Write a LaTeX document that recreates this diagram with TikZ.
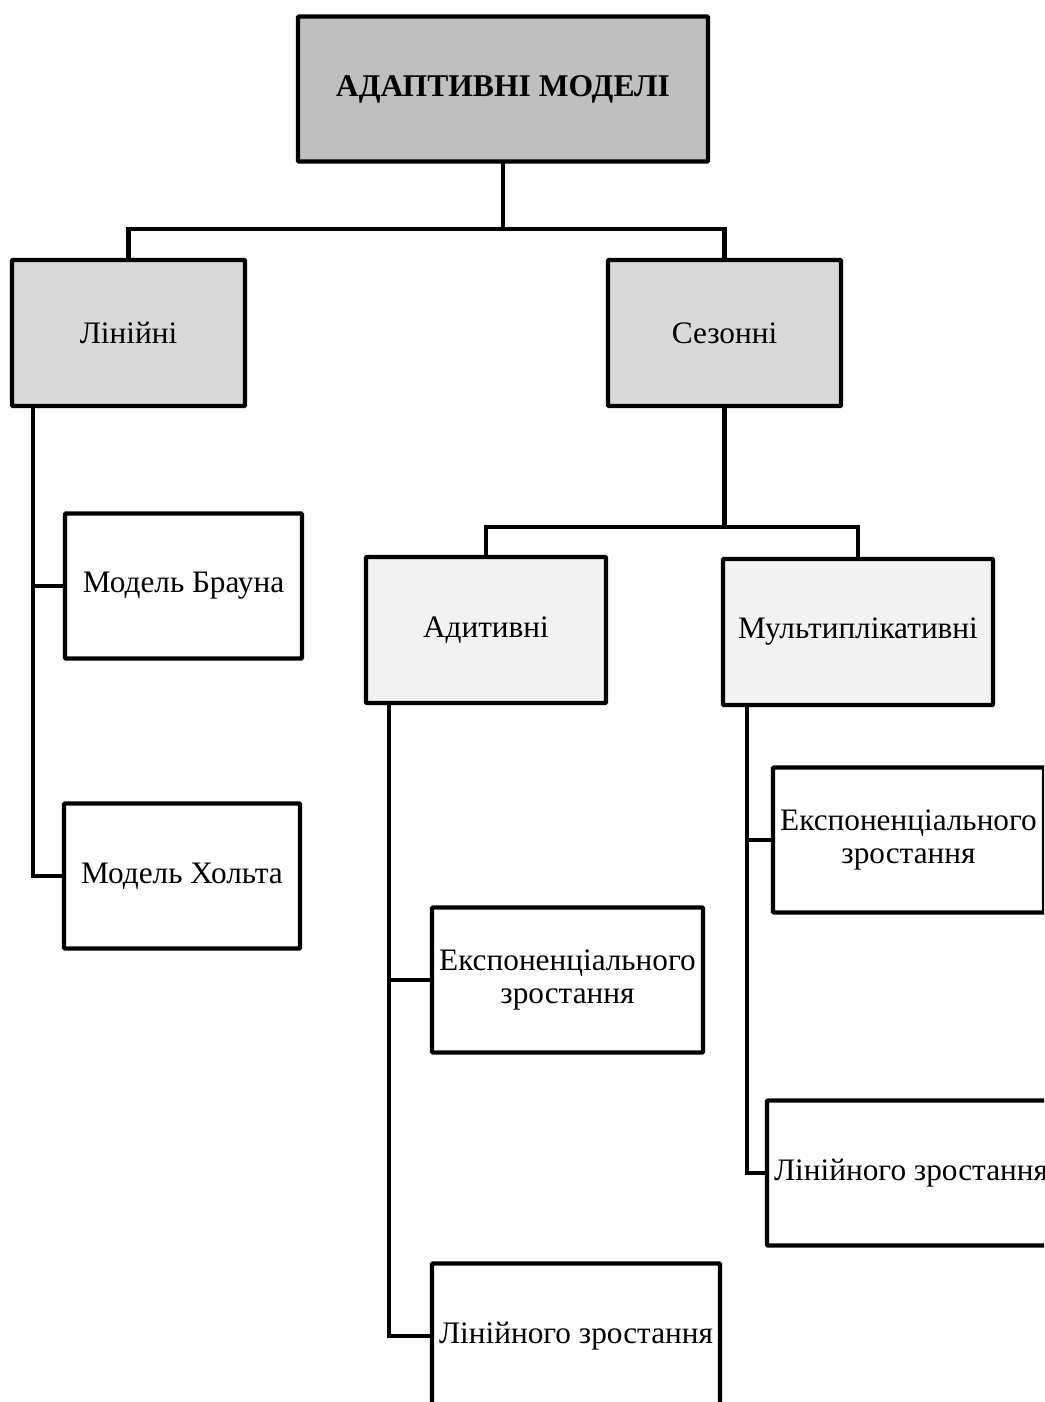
\documentclass[tikz,border=0pt]{standalone}
\usepackage{fontspec}
\setmainfont{Liberation Serif}
\usepackage{tikz}
\usetikzlibrary{positioning, calc}
\definecolor{greydark}{HTML}{BFBFBF}
\definecolor{greymid}{HTML}{D9D9D9}
\definecolor{greylight}{HTML}{F2F2F2}

\tikzset{
  box/.style={draw=black, line width=2.4pt, rounded corners=0.5pt, rectangle, align=center,
    font=\fontsize{17.8}{19}\selectfont, inner sep=2pt},
  rootbox/.style={box, fill=greydark, minimum width=8.2cm, minimum height=2.9cm,
    font=\fontsize{18}{19}\selectfont\bfseries},
  groupbox/.style={box, fill=greymid, minimum width=4.66cm, minimum height=2.92cm},
  subbox/.style={box, fill=greylight, minimum height=2.92cm},
  leafbox/.style={box, fill=white, minimum height=2.9cm},
  link/.style={draw=black, line width=2.4pt, line cap=rect}
}

\begin{document}
\begin{tikzpicture}[x=0.02cm, y=-0.02cm]
  \useasboundingbox (0,0) rectangle (1044,1402);
  \clip (0,0) rectangle (1044,1402);

  % Root
  \node[rootbox] (root) at (503,89) {АДАПТИВНІ МОДЕЛІ};

  % Level 2
  \node[groupbox] (linear) at (128.5,333) {Лінійні};
  \node[groupbox] (season) at (724.5,333) {Сезонні};

  % Linear models
  \node[leafbox, minimum width=4.74cm] (brown) at (183.5,586) {Модель Брауна};
  \node[leafbox, minimum width=4.72cm] (holt) at (182,876) {Модель Хольта};

  % Seasonal models
  \node[subbox, minimum width=4.8cm] (additive) at (486,630) {Адитивні};
  \node[subbox, minimum width=5.4cm] (multi) at (858,632) {Мультиплікативні};

  % Additive leaves
  \node[leafbox, minimum width=5.42cm] (addexp) at (567.5,980) {Експоненціального\\зростання};
  \node[leafbox, minimum width=5.76cm] (addlin) at (576,1336) {Лінійного зростання};

  % Multiplicative leaves
  \node[leafbox, minimum width=5.42cm] (mulexp) at (908.5,840) {Експоненціального\\зростання};
  \node[leafbox, minimum width=5.76cm] (mullin) at (911,1173) {Лінійного зростання};

  % Bus points
  \coordinate (topbus) at (503,229);
  \coordinate (seasonbus) at (724.5,527);

  % Connectors
  \draw[link] (root.south) -- (topbus);
  \draw[link] (linear.north) |- (topbus) -| (season.north);
  \draw[link] (season.south) -- (seasonbus);
  \draw[link] (additive.north) |- (seasonbus) -| (multi.north);

  \draw[link] ($(linear.south west)+(23,0)$) |- (brown.west);
  \draw[link] ($(linear.south west)+(23,0)$) |- (holt.west);

  \draw[link] ($(additive.south west)+(25,0)$) |- (addexp.west);
  \draw[link] ($(additive.south west)+(25,0)$) |- (addlin.west);

  \draw[link] ($(multi.south west)+(26,0)$) |- (mulexp.west);
  \draw[link] ($(multi.south west)+(26,0)$) |- (mullin.west);
\end{tikzpicture}
\end{document}
